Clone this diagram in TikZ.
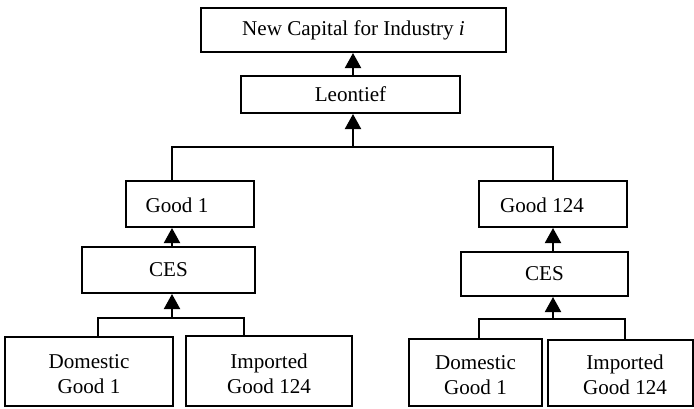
\documentclass[tikz,border=0pt]{standalone}
\usepackage{fontspec}
\setmainfont{Liberation Serif}
\usetikzlibrary{arrows.meta}
\begin{document}
\begin{tikzpicture}[x=0.5pt,y=-0.5pt,
  box/.style={draw,line width=1pt,rectangle,inner sep=0pt,font=\fontsize{10.55}{12.6}\selectfont,align=center},
  txt/.style={inner sep=0pt,font=\fontsize{10.55}{12.6}\selectfont,align=center},
  link/.style={line width=1pt},
  arr/.style={line width=1pt,-{Triangle[length=7.5pt,width=8pt]}}]
\useasboundingbox (0,0) rectangle (694,408);
% boxes
\node[box,minimum width=152.5pt,minimum height=22pt] (top) at (353.5,30) {New Capital for Industry \textit{i}};
\node[box,minimum width=109.5pt,minimum height=18.5pt] (leon) at (350.5,94.5) {Leontief};
\node[box,minimum width=64pt,minimum height=23pt] (g1) at (190,204) {};
\node[txt] (g1t) at (177,205) {Good 1};
\node[box,minimum width=86.5pt,minimum height=23pt] (ces1) at (168.5,270) {CES};
\node[box,minimum width=74pt,minimum height=23pt] (g124) at (553,204) {};
\node[txt] (g124t) at (542,205) {Good 124};
\node[box,minimum width=83.5pt,minimum height=22pt] (ces2) at (544.5,274) {CES};
\node[box,minimum width=84pt,minimum height=34.5pt] (d1) at (89,371.5) {};
\node[txt] (d1t) at (89,374) {Domestic\\Good 1};
\node[box,minimum width=83pt,minimum height=35pt] (i1) at (269,371) {};
\node[txt] (i1t) at (269,374) {Imported\\Good 124};
\node[box,minimum width=66.5pt,minimum height=33.5pt] (d2) at (475.5,372.5) {};
\node[txt] (d2t) at (475.5,375) {Domestic\\Good 1};
\node[box,minimum width=72.5pt,minimum height=33pt] (i2) at (620.5,373) {};
\node[txt] (i2t) at (625,375) {Imported\\Good 124};
% junction coordinates
\coordinate (c1) at (172,147);
\coordinate (jt) at (353,147);
\coordinate (dl) at (98,318);
\coordinate (il) at (244,318);
\coordinate (b1) at (172,318);
\coordinate (dr) at (479,319);
\coordinate (ir) at (625,319);
\coordinate (b2) at (553,319);
% connectors
\draw[arr] (jt |- leon.north) -- (jt |- top.south);
\draw[link] (c1 |- g1.north) -- (c1) -| (g124.north);
\draw[arr] (jt) -- (jt |- leon.south);
\draw[arr] (c1 |- ces1.north) -- (c1 |- g1.south);
\draw[link] (dl |- d1.north) -- (dl) -- (il) -- (il |- i1.north);
\draw[arr] (b1) -- (b1 |- ces1.south);
\draw[arr] (b2 |- ces2.north) -- (b2 |- g124.south);
\draw[link] (dr |- d2.north) -- (dr) -- (ir) -- (ir |- i2.north);
\draw[arr] (b2) -- (b2 |- ces2.south);
\end{tikzpicture}
\end{document}
